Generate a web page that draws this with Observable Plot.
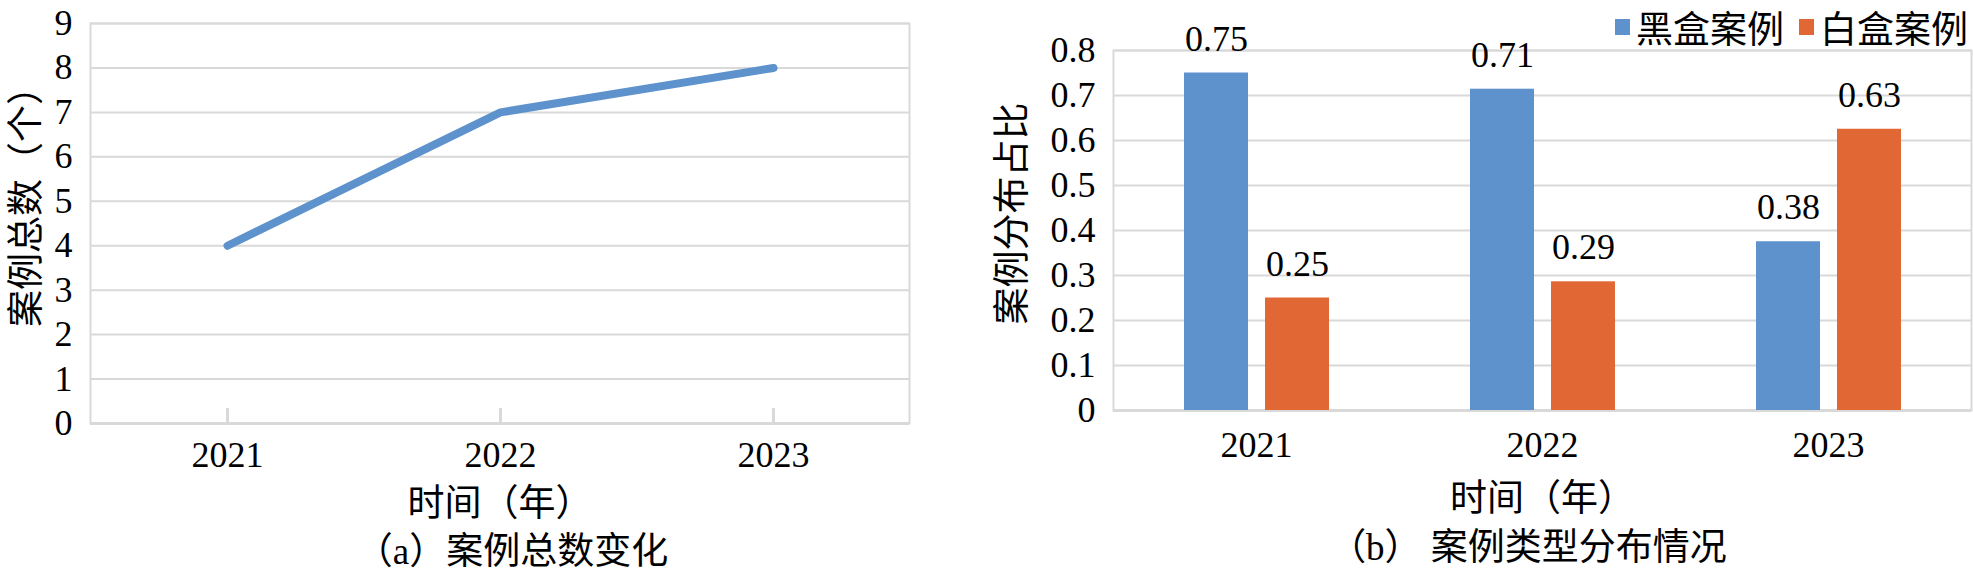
<!DOCTYPE html>
<html><head><meta charset="utf-8">
<script src="https://cdn.jsdelivr.net/npm/d3@7"></script>
<script src="https://cdn.jsdelivr.net/npm/@observablehq/plot@0.6"></script>
<style>
html,body{margin:0;padding:0;background:#fff;overflow:hidden;}
body{width:1973px;height:577px;position:relative;font-family:'Liberation Serif','Noto Sans CJK SC',serif;color:#000;}
.pos{position:absolute;}
.cap{position:absolute;font-size:37px;line-height:44px;white-space:nowrap;transform:translateX(-50%);}
.lg-swatch{margin-right:15px !important;}
.lg-swatch > svg{margin-right:6px !important;}
</style></head><body>
<div id="chartA" class="pos" style="left:0;top:0"></div>
<div id="chartB" class="pos" style="left:950px;top:0"></div>
<div id="legendB" class="pos" style="left:1615px;top:0;width:420px;white-space:nowrap"></div>
<div class="cap" id="capA" style="left:512px;top:530px"></div>
<div class="cap" id="capB" style="left:1528px;top:526px"></div>
<script>
// ---- data ----
const years = ["2021", "2022", "2023"];
const totalCases = [4, 7, 8];
const yTicksA = [0, 1, 2, 3, 4, 5, 6, 7, 8, 9];
const seriesNames = ["黑盒案例", "白盒案例"];
const blackBoxShare = [0.75, 0.714, 0.375];
const whiteBoxShare = [0.25, 0.286, 0.625];
const yTicksB = [0, 0.1, 0.2, 0.3, 0.4, 0.5, 0.6, 0.7, 0.8];
const seriesColors = ["#5E92CD", "#E16735"];
const yLabelA = "案例总数（个）";
const xLabelA = "时间（年）";
const captionA = "（a）案例总数变化";
const yLabelB = "案例分布占比";
const xLabelB = "时间（年）";
const captionB = "（b） 案例类型分布情况";

// ---- styles ----
const serif = "'Liberation Serif','Noto Sans CJK SC',serif";
const cjk = "'Noto Sans CJK SC',sans-serif";
const grid = "#d9d9d9";
const svgStyle = {fontFamily: serif, fontSize: "36px", color: "#000", background: "transparent", overflow: "visible"};
const titleStyle = {textAnchor: "middle", lineAnchor: "middle", fontFamily: cjk, fontSize: 37};

// ---- chart (a) ----
const dataA = years.map((year, i) => ({year, count: totalCases[i]}));
const chartA = Plot.plot({
  width: 950, height: 530,
  marginLeft: 90, marginRight: 41, marginTop: 23, marginBottom: 107,
  style: svgStyle,
  x: {type: "point", domain: years, padding: 0.5},
  y: {domain: [0, 9]},
  marks: [
    Plot.gridY(yTicksA, {stroke: grid, strokeOpacity: 1, strokeWidth: 2}),
    Plot.frame({stroke: grid, strokeWidth: 2}),
    Plot.ruleY([0], {stroke: grid, strokeWidth: 3}),
    Plot.axisX(years, {tickSize: -15, fill: "none", stroke: grid, strokeWidth: 3, label: null}),
    Plot.axisX(years, {tickSize: 0, tickPadding: 18, label: null}),
    Plot.axisY(yTicksA, {tickSize: 0, tickPadding: 18, label: null}),
    Plot.lineY(dataA, {x: "year", y: "count", stroke: seriesColors[0], strokeWidth: 8, strokeLinecap: "round", strokeLinejoin: "round"}),
    Plot.text([yLabelA], {...titleStyle, text: d => d, frameAnchor: "left", rotate: -90, dx: -63, dy: -26}),
    Plot.text([xLabelA], {...titleStyle, text: d => d, frameAnchor: "bottom", dy: 81})
  ]
});
document.getElementById("chartA").append(chartA);

// ---- chart (b) ----
const dataB = years.flatMap((year, i) => [
  {year, type: seriesNames[0], share: blackBoxShare[i]},
  {year, type: seriesNames[1], share: whiteBoxShare[i]}
]);
const fmt = d3.format(".2f");
const chartB = Plot.plot({
  width: 1023, height: 525,
  marginLeft: 163, marginRight: 2, marginTop: 50, marginBottom: 115,
  style: svgStyle,
  fx: {domain: years, padding: 0, axis: "bottom", tickSize: 0, tickPadding: 21, label: null},
  x: {domain: seriesNames, paddingInner: 0.21, paddingOuter: 0.87, axis: null},
  y: {domain: [0, 0.8]},
  color: {domain: seriesNames, range: seriesColors},
  marks: [
    Plot.gridY(yTicksB, {stroke: grid, strokeOpacity: 1, strokeWidth: 2}),
    Plot.ruleY([0], {stroke: grid, strokeWidth: 3}),
    Plot.frame({facet: "super", stroke: grid, strokeWidth: 2}),
    Plot.axisY(yTicksB, {tickSize: 0, tickPadding: 18, tickFormat: d => String(d), label: null}),
    Plot.barY(dataB, {fx: "year", x: "type", y: "share", fill: "type"}),
    Plot.text(dataB, {fx: "year", x: "type", y: "share", text: d => fmt(d.share), dy: -34}),
    Plot.text([yLabelB], {...titleStyle, facet: "super", text: d => d, frameAnchor: "left", rotate: -90, dx: -100, dy: -17}),
    Plot.text([xLabelB], {...titleStyle, facet: "super", text: d => d, frameAnchor: "bottom", dy: 89})
  ]
});
document.getElementById("chartB").append(chartB);

const legend = Plot.legend({
  color: {domain: seriesNames, range: seriesColors},
  legend: "swatches", swatchWidth: 15, swatchHeight: 16, className: "lg",
  style: {fontFamily: cjk, fontSize: "37px", lineHeight: "54px", margin: "0", color: "#000"}
});
document.getElementById("legendB").append(legend);

document.getElementById("capA").textContent = captionA;
document.getElementById("capB").textContent = captionB;
</script>
</body></html>
